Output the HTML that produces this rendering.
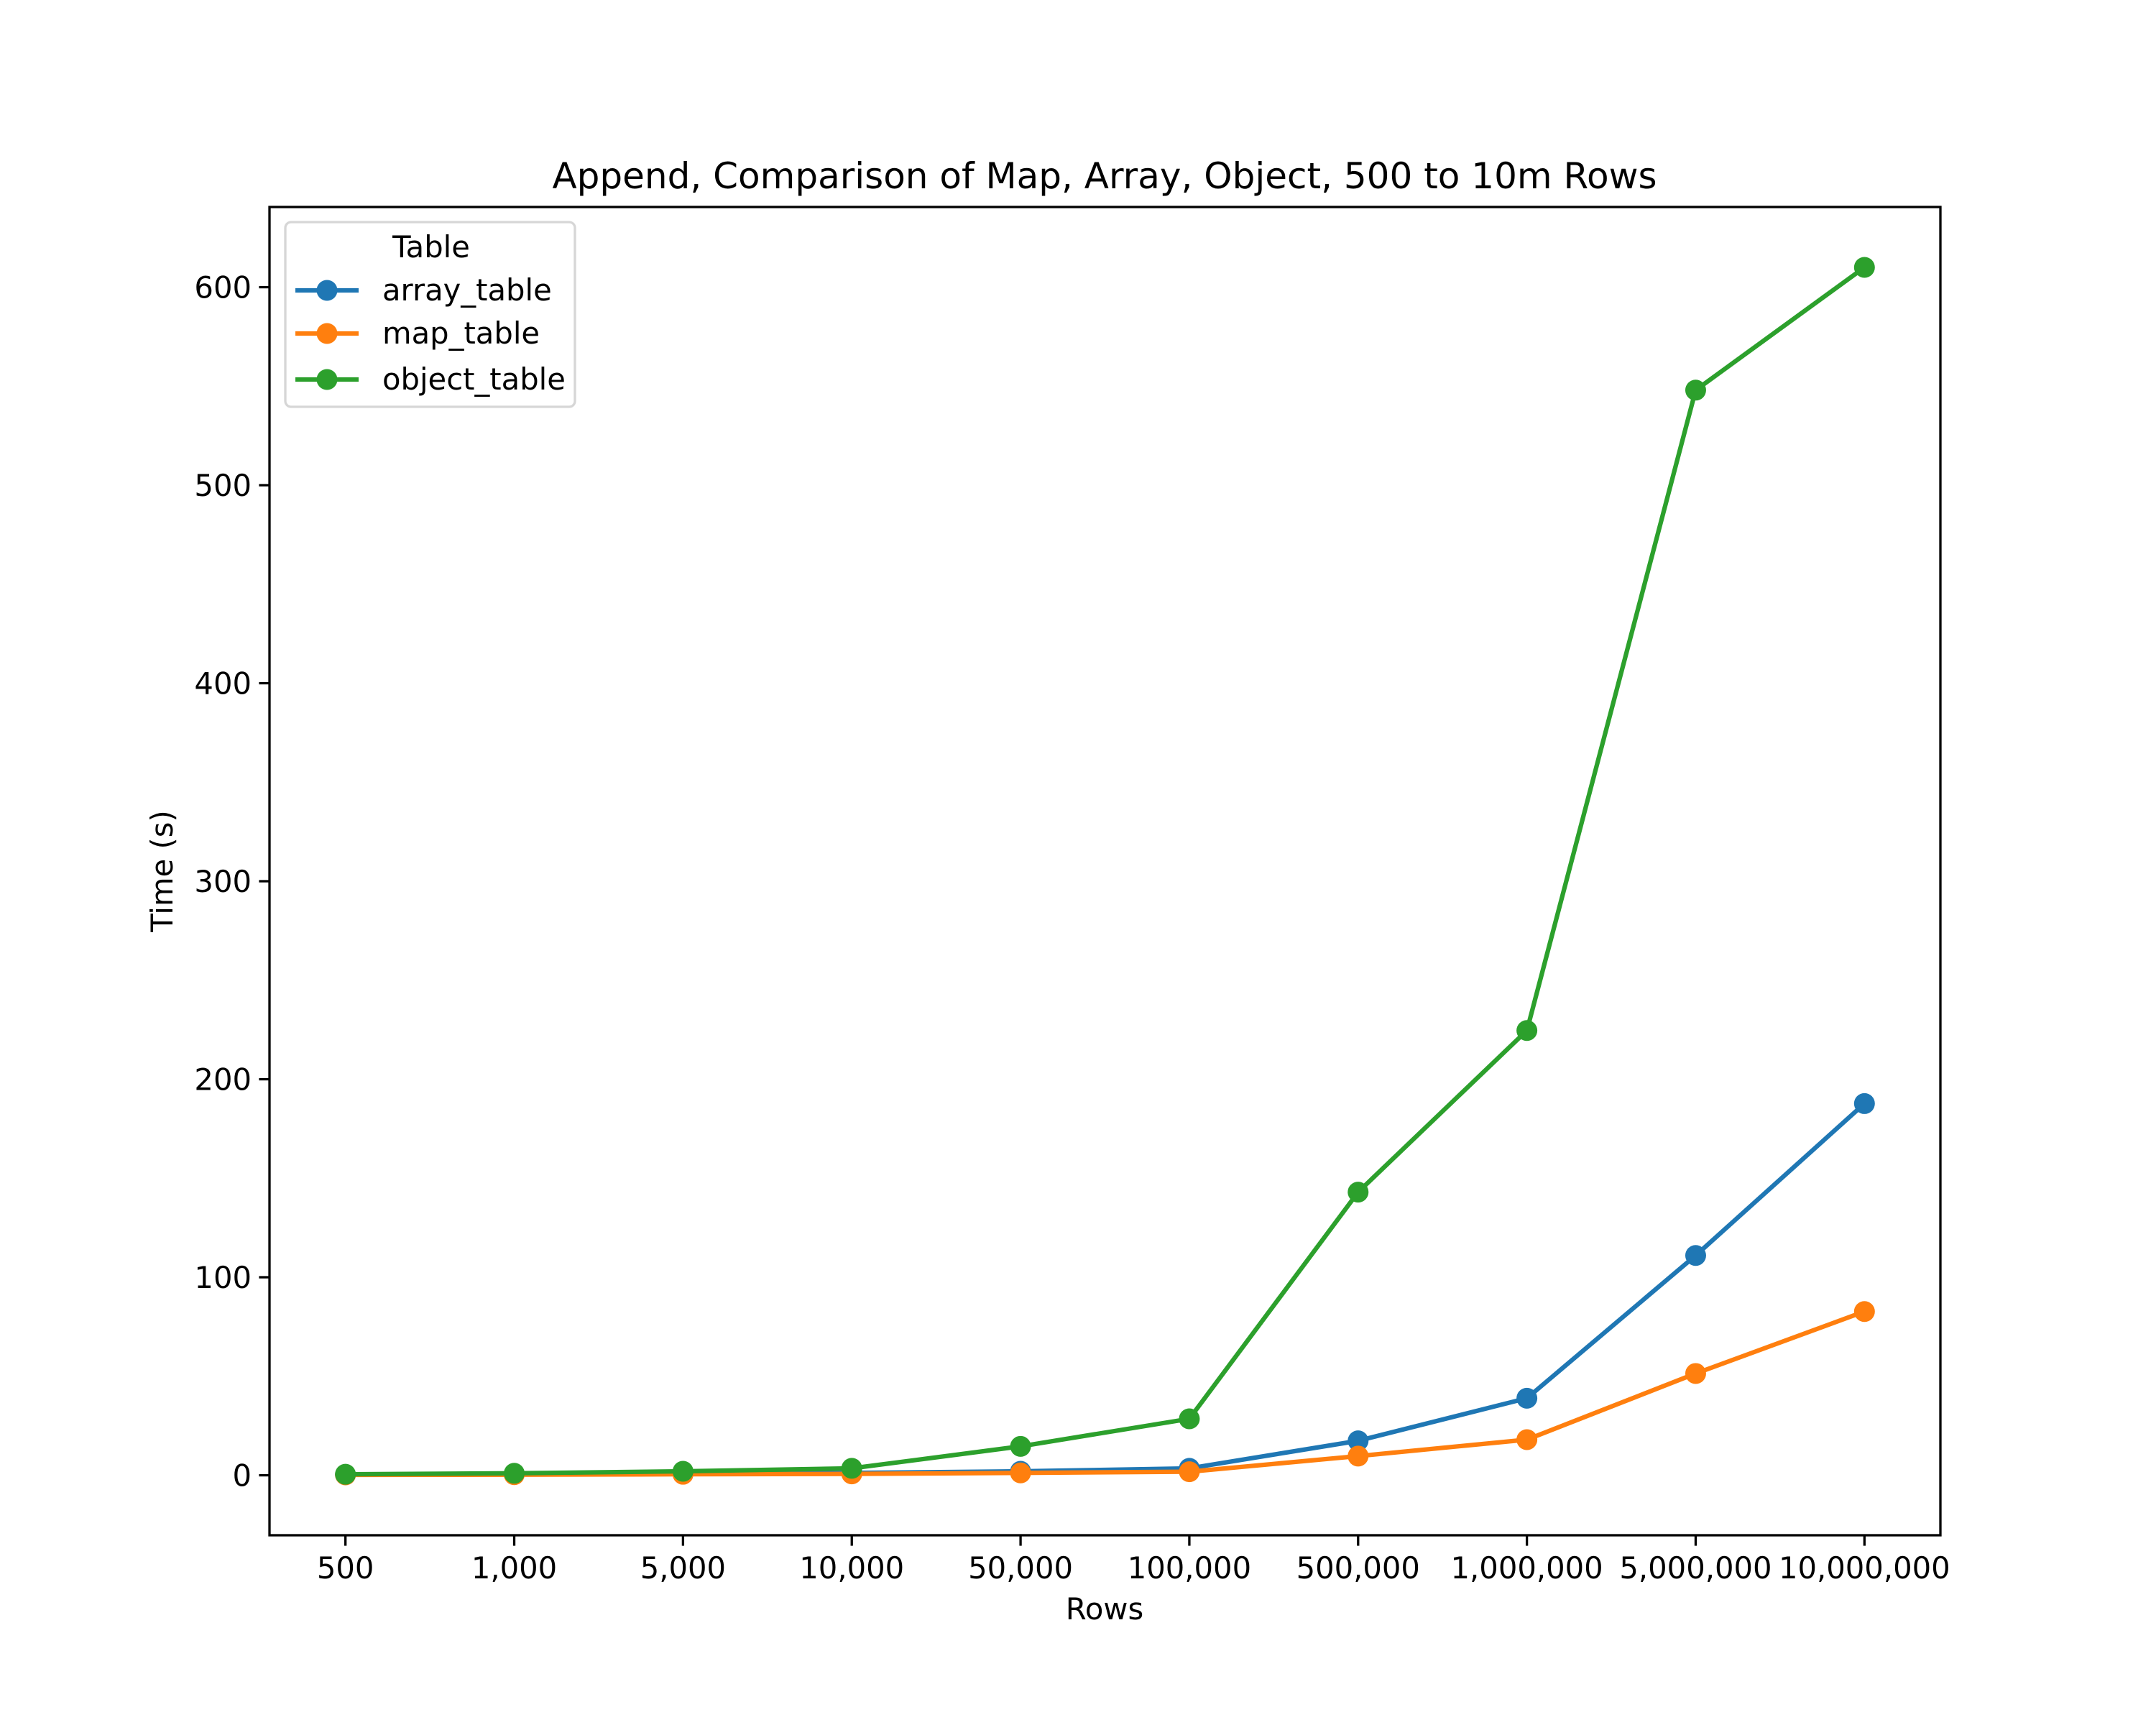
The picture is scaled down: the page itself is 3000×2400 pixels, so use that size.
<!DOCTYPE html>
<html><head><meta charset="utf-8"><style>
html,body{margin:0;padding:0;background:#fff}
svg{display:block}
text{font-family:"DejaVu Sans","Liberation Sans",sans-serif;fill:#000}
</style></head><body>
<svg id="chart" width="3000" height="2400" viewBox="0 0 3000 2400" xmlns="http://www.w3.org/2000/svg">
<rect width="3000" height="2400" fill="#fff"/>
<text x="1537" y="262" font-size="50" text-anchor="middle">Append, Comparison of Map, Array, Object, 500 to 10m Rows</text>
<text x="1537" y="2253" font-size="41.7" text-anchor="middle">Rows</text>
<text transform="translate(240,1212) rotate(-90)" font-size="41.7" text-anchor="middle">Time (s)</text>
<g id="plot"></g>
<rect x="375" y="288" width="2325" height="1848" fill="none" stroke="#000" stroke-width="3.3"/>
<g>
<rect x="397" y="309" width="403" height="257" rx="8" fill="#fff" fill-opacity="0.8" stroke="#d6d6d6" stroke-width="3.3"/>
<text x="600" y="358" font-size="41.7" text-anchor="middle">Table</text>
<g><line x1="411" y1="404" x2="499" y2="404" stroke="#1f77b4" stroke-width="6.25"/><circle cx="455" cy="404" r="14.5" fill="#1f77b4"/><text x="532" y="418" font-size="41.7">array_table</text></g>
<g><line x1="411" y1="464" x2="499" y2="464" stroke="#ff7f0e" stroke-width="6.25"/><circle cx="455" cy="464" r="14.5" fill="#ff7f0e"/><text x="532" y="478" font-size="41.7">map_table</text></g>
<g><line x1="411" y1="528" x2="499" y2="528" stroke="#2ca02c" stroke-width="6.25"/><circle cx="455" cy="528" r="14.5" fill="#2ca02c"/><text x="532" y="542" font-size="41.7">object_table</text></g>
</g>
</svg>
<script>
const categories = ["500","1,000","5,000","10,000","50,000","100,000","500,000","1,000,000","5,000,000","10,000,000"];
const arrayValues = [0.3, 0.5, 1, 1.2, 2, 3.5, 17.4, 38.9, 111, 187.7];
const mapValues = [0.2, 0.3, 0.5, 0.7, 1.2, 1.8, 9.7, 18, 51.4, 82.7];
const objectValues = [0.5, 1, 2, 3.5, 14.6, 28.5, 143, 224.6, 548, 610];
const yTicks = [0, 100, 200, 300, 400, 500, 600];

const NS = "http://www.w3.org/2000/svg";
const L = 375, R = 2700, T = 288, B = 2136;
const xMin = -0.45, xMax = categories.length - 1 + 0.45;
const allV = arrayValues.concat(mapValues, objectValues);
const vmin = Math.min(...allV), vmax = Math.max(...allV);
const yMin = vmin - 0.05 * (vmax - vmin), yMax = vmax + 0.05 * (vmax - vmin);
function xs(i){ return L + (i - xMin) / (xMax - xMin) * (R - L); }
function ys(v){ return B - (v - yMin) / (yMax - yMin) * (B - T); }
const plot = document.getElementById('plot');
function mk(tag, attrs){ const e = document.createElementNS(NS, tag); for (const k in attrs) e.setAttribute(k, attrs[k]); return e; }

categories.forEach((c, i) => {
  const t = mk('line', {x1: xs(i), x2: xs(i), y1: B, y2: B + 14.6, stroke: '#000', 'stroke-width': 3.3});
  
  
  plot.appendChild(t);
  const tx = mk('text', {x: xs(i), y: B + 60, 'font-size': 41.7, 'text-anchor': 'middle'});
  tx.textContent = c;
  
  
  plot.appendChild(tx);
});
yTicks.forEach(v => {
  const t = mk('line', {x1: L - 14.6, x2: L, y1: ys(v), y2: ys(v), stroke: '#000', 'stroke-width': 3.3});
  
  
  plot.appendChild(t);
  const tx = mk('text', {x: L - 25, y: ys(v) + 15, 'font-size': 41.7, 'text-anchor': 'end'});
  tx.textContent = v;
  
  
  plot.appendChild(tx);
});
function series(vals, color, name){
  const g = mk('g', {});
  
  
  const pl = mk('polyline', {points: vals.map((v, i) => xs(i) + ',' + ys(v)).join(' '), fill: 'none', stroke: color, 'stroke-width': 6.25, 'stroke-linejoin': 'round'});
  
  
  g.appendChild(pl);
  vals.forEach((v, i) => {
    const c = mk('circle', {cx: xs(i), cy: ys(v), r: 14.5, fill: color});
    
    
    g.appendChild(c);
  });
  plot.appendChild(g);
}
series(arrayValues, '#1f77b4', 'array-table');
series(mapValues, '#ff7f0e', 'map-table');
series(objectValues, '#2ca02c', 'object-table');
</script>
</body></html>
